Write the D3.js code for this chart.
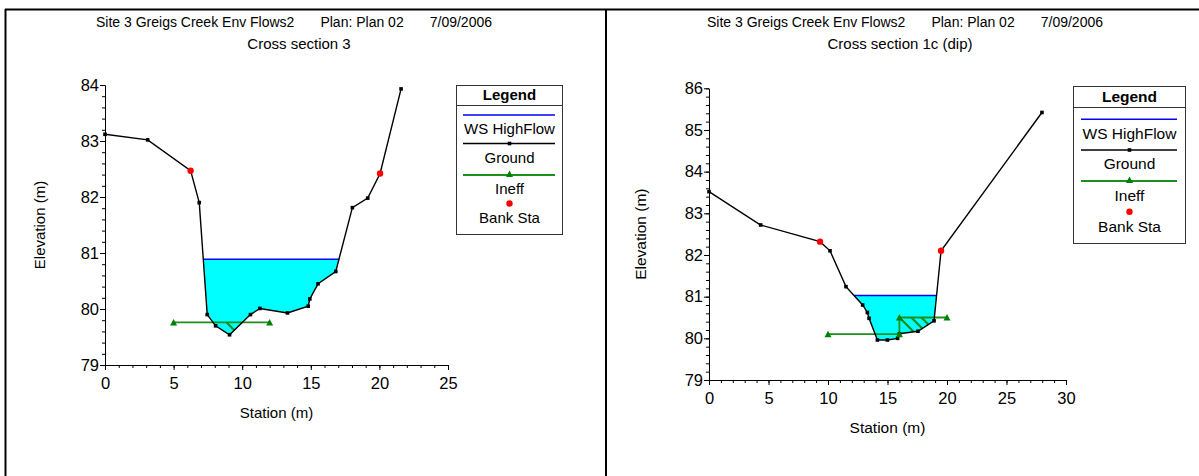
<!DOCTYPE html>
<html><head><meta charset="utf-8">
<script src="https://cdn.jsdelivr.net/npm/d3@7"></script>
<style>body{margin:0;background:#fff}svg{display:block;font-family:"Liberation Sans",Arial,sans-serif}</style>
</head><body><svg id="c" width="1199" height="476"></svg>
<script>
// ---------- shared text ----------
const titleParts = ["Site 3 Greigs Creek Env Flows2", "Plan: Plan 02", "7/09/2006"];
const legendLabels = ["WS HighFlow", "Ground", "Ineff", "Bank Sta"];
const xAxisTitle = "Station (m)";
const yAxisTitle = "Elevation (m)";

// ---------- Cross section 3 ----------
const xs3Name = "Cross section 3";
const xs3Station = [0, 3.11, 6.24, 6.87, 7.45, 8.06, 9.08, 10.6, 11.29, 13.30, 14.81, 14.93, 15.53, 16.82, 18.03, 19.15, 20.05, 21.58];
const xs3Elev    = [83.12, 83.02, 82.47, 81.90, 79.90, 79.70, 79.54, 79.90, 80.01, 79.93, 80.05, 80.18, 80.45, 80.67, 81.81, 81.98, 82.42, 83.93];
const xs3WS = 80.89;
const xs3BankStation = [6.24, 20.05];
const xs3BankElev = [82.47, 82.42];
const xs3IneffStation = [5, 12];
const xs3IneffElev = [79.76, 79.76];
const xs3HatchStation = [8.86];
const xs3HatchElev = [79.76];
const xs3XTicks = [0, 5, 10, 15, 20, 25];
const xs3YTicks = [79, 80, 81, 82, 83, 84];

// ---------- Cross section 1c (dip) ----------
const xs1cName = "Cross section 1c (dip)";
const xs1cStation = [0, 4.34, 9.33, 10.17, 11.51, 12.91, 13.31, 13.45, 14.15, 14.99, 15.85, 16.0, 17.56, 18.91, 19.5, 27.98];
const xs1cElev    = [83.52, 82.72, 82.32, 82.10, 81.24, 80.80, 80.62, 80.48, 79.96, 79.96, 80.0, 80.11, 80.17, 80.42, 82.10, 85.42];
const xs1cWS = 81.03;
const xs1cBankStation = [9.33, 19.5];
const xs1cBankElev = [82.32, 82.10];
const xs1cIneffStation = [10, 16, 16, 20];
const xs1cIneffElev = [80.10, 80.10, 80.50, 80.50];
const xs1cHatchStation = [16.0, 17.0, 17.85];
const xs1cHatchElev = [80.50, 80.50, 80.50];
const xs1cXTicks = [0, 5, 10, 15, 20, 25, 30];
const xs1cYTicks = [79, 80, 81, 82, 83, 84, 85, 86];

const svg = d3.select("#c");
const GREEN = "#1d8f1d", GREEN_MARK = "#008000";

// frame
svg.append("line").attr("x1", 5).attr("x2", 1199).attr("y1", 9.5).attr("y2", 9.5).attr("stroke", "#000").attr("stroke-width", 2);
svg.append("line").attr("x1", 5.5).attr("x2", 5.5).attr("y1", 9).attr("y2", 476).attr("stroke", "#000").attr("stroke-width", 2);
svg.append("line").attr("x1", 606).attr("x2", 606).attr("y1", 9).attr("y2", 476).attr("stroke", "#000").attr("stroke-width", 2);

let clipId = 0;
function triangle(g, x, y, color) {
  g.append("path").attr("d", `M${x - 3.5},${y + 3}L${x + 3.5},${y + 3}L${x},${y - 3.5}Z`).attr("fill", color);
}

function drawChart(cfg) {
  const g = svg.append("g");
  const x = d3.scaleLinear().domain([cfg.xTicks[0], cfg.xTicks[cfg.xTicks.length - 1]]).range([cfg.left, cfg.right]);
  const y = d3.scaleLinear().domain([cfg.yTicks[0], cfg.yTicks[cfg.yTicks.length - 1]]).range([cfg.bottom, cfg.top]);

  // titles
  const t = g.append("text").attr("x", cfg.titleX).attr("y", cfg.titleY).attr("text-anchor", "middle")
    .attr("font-size", cfg.titleSize).attr("fill", "#000").attr("xml:space", "preserve");
  titleParts.forEach((p, i) => t.append("tspan").attr("dx", i === 0 ? 0 : cfg.titleGap).text(p));
  g.append("text").attr("x", cfg.subX).attr("y", cfg.subY).attr("text-anchor", "middle")
    .attr("font-size", cfg.subSize).text(cfg.name);

  // ground data
  const ground = cfg.station.map((s, i) => [s, cfg.elev[i]]);
  // water polygon: find crossings from the thalweg outward
  let iMin = d3.minIndex(ground, d => d[1]);
  let l = iMin; while (l > 0 && ground[l - 1][1] < cfg.ws) l--;
  let r = iMin; while (r < ground.length - 1 && ground[r + 1][1] < cfg.ws) r++;
  const cross = (a, b) => a[0] + (b[0] - a[0]) * (cfg.ws - a[1]) / (b[1] - a[1]);
  const xl = cross(ground[l - 1], ground[l]);
  const xr = cross(ground[r], ground[r + 1]);
  const water = [[xl, cfg.ws]].concat(ground.slice(l, r + 1)).concat([[xr, cfg.ws]]);
  const line = d3.line().x(d => x(d[0])).y(d => y(d[1]));
  g.append("path").attr("d", line(water) + "Z").attr("fill", "#00FFFF").attr("stroke", "none");

  // hatch (ineffective) clipped to water
  const cid = "clip" + (clipId++);
  g.append("clipPath").attr("id", cid).append("path").attr("d", line(water) + "Z");
  const hg = g.append("g").attr("clip-path", `url(#${cid})`);
  cfg.hatchStation.forEach((s, i) => {
    const px = x(s), py = y(cfg.hatchElev[i]);
    hg.append("line").attr("x1", px).attr("y1", py).attr("x2", px + 60).attr("y2", py + 60)
      .attr("stroke", GREEN).attr("stroke-width", 2.2);
  });

  // WS line
  g.append("line").attr("x1", x(xl)).attr("x2", x(xr)).attr("y1", y(cfg.ws)).attr("y2", y(cfg.ws))
    .attr("stroke", "#0000FF").attr("stroke-width", 1.5);

  // ineff
  const ineff = cfg.ineffStation.map((s, i) => [s, cfg.ineffElev[i]]);
  g.append("path").attr("d", line(ineff)).attr("fill", "none").attr("stroke", GREEN).attr("stroke-width", 1.8);

  // ground
  g.append("path").attr("d", line(ground)).attr("fill", "none").attr("stroke", "#000").attr("stroke-width", 1.4);
  g.selectAll(null).data(ground).enter().append("rect")
    .attr("x", d => x(d[0]) - 1.8).attr("y", d => y(d[1]) - 1.8).attr("width", 3.6).attr("height", 3.6).attr("fill", "#000");

  ineff.forEach(d => triangle(g, x(d[0]), y(d[1]), GREEN_MARK));

  // bank stations
  cfg.bankStation.forEach((s, i) => g.append("circle").attr("cx", x(s)).attr("cy", y(cfg.bankElev[i])).attr("r", 3.2).attr("fill", "#FF0000"));

  // axes
  const xMinor = d3.range(cfg.xTicks[0], cfg.xTicks[cfg.xTicks.length - 1] + 0.001, 1);
  const yMinor = d3.range(cfg.yTicks[0], cfg.yTicks[cfg.yTicks.length - 1] + 0.001, 0.2);
  const ax = g.append("g").attr("transform", `translate(0,${cfg.bottom})`);
  ax.call(d3.axisBottom(x).tickValues(xMinor).tickSize(3).tickSizeOuter(0).tickFormat(""));
  ax.call(g2 => g2.selectAll("text").remove());
  const axM = g.append("g").attr("transform", `translate(0,${cfg.bottom})`)
    .call(d3.axisBottom(x).tickValues(cfg.xTicks).tickSize(5).tickSizeOuter(0).tickPadding(cfg.xPad).tickFormat(d3.format("d")));
  const ay = g.append("g").attr("transform", `translate(${cfg.left},0)`);
  ay.call(d3.axisLeft(y).tickValues(yMinor).tickSize(3).tickSizeOuter(0).tickFormat(""));
  ay.call(g2 => g2.selectAll("text").remove());
  const ayM = g.append("g").attr("transform", `translate(${cfg.left},0)`)
    .call(d3.axisLeft(y).tickValues(cfg.yTicks).tickSize(5).tickSizeOuter(0).tickPadding(1).tickFormat(d3.format("d")));
  [ax, axM, ay, ayM].forEach(a => {
    a.attr("font-family", null).attr("font-size", null);
    a.selectAll("line,path").attr("stroke", "#000");
    a.selectAll("text").attr("font-size", cfg.tickSize).attr("fill", "#000");
  });

  // axis titles
  g.append("text").attr("x", (cfg.left + cfg.right) / 2).attr("y", cfg.bottom + cfg.xTitleOff)
    .attr("text-anchor", "middle").attr("font-size", cfg.axisTitleSize).text(xAxisTitle);
  g.append("text").attr("transform", `translate(${cfg.yTitleX},${(cfg.top + cfg.bottom) / 2}) rotate(-90)`)
    .attr("text-anchor", "middle").attr("font-size", cfg.axisTitleSize).text(yAxisTitle);

  // legend
  const L = cfg.legend;
  const lg = g.append("g");
  lg.append("rect").attr("x", L.x + 0.5).attr("y", L.y + 0.5).attr("width", L.w).attr("height", L.h)
    .attr("fill", "#fff").attr("stroke", "#333");
  lg.append("line").attr("x1", L.x).attr("x2", L.x + L.w).attr("y1", L.y + L.sep + 0.5).attr("y2", L.y + L.sep + 0.5).attr("stroke", "#333");
  const cx = L.x + L.w / 2 + 0.5;
  lg.append("text").attr("x", cx).attr("y", L.y + L.head).attr("text-anchor", "middle")
    .attr("font-size", L.size).attr("font-weight", "bold").text("Legend");
  const x1 = L.x + L.inset, x2 = L.x + L.w - L.inset;
  legendLabels.forEach((lab, i) => {
    const sy = L.y + L.sym[i];
    if (i === 0) lg.append("line").attr("x1", x1).attr("x2", x2).attr("y1", sy).attr("y2", sy).attr("stroke", "#0000FF").attr("stroke-width", 1.5);
    if (i === 1) {
      lg.append("line").attr("x1", x1).attr("x2", x2).attr("y1", sy).attr("y2", sy).attr("stroke", "#000").attr("stroke-width", 1.4);
      lg.append("rect").attr("x", cx - 1.8).attr("y", sy - 1.8).attr("width", 3.6).attr("height", 3.6).attr("fill", "#000");
    }
    if (i === 2) {
      lg.append("line").attr("x1", x1).attr("x2", x2).attr("y1", sy).attr("y2", sy).attr("stroke", GREEN).attr("stroke-width", 1.8);
      triangle(lg, cx, sy - 1, GREEN_MARK);
    }
    if (i === 3) lg.append("circle").attr("cx", cx).attr("cy", sy).attr("r", 3.2).attr("fill", "#FF0000");
    lg.append("text").attr("x", cx).attr("y", L.y + L.txt[i]).attr("text-anchor", "middle")
      .attr("font-size", L.size).text(lab);
  });
}

drawChart({
  name: xs3Name, station: xs3Station, elev: xs3Elev, ws: xs3WS,
  bankStation: xs3BankStation, bankElev: xs3BankElev,
  ineffStation: xs3IneffStation, ineffElev: xs3IneffElev,
  hatchStation: xs3HatchStation, hatchElev: xs3HatchElev,
  xTicks: xs3XTicks, yTicks: xs3YTicks,
  left: 105, right: 448, top: 85, bottom: 365,
  titleX: 294, titleY: 27, titleSize: 14, titleGap: 26,
  subX: 299, subY: 49, subSize: 15,
  tickSize: 16.5, xPad: 7, axisTitleSize: 15, xTitleOff: 53, yTitleX: 45,
  legend: { x: 456, y: 85, w: 106, h: 149, sep: 20, head: 15, size: 15, inset: 7,
            sym: [30, 58.5, 90, 118.5], txt: [48.5, 77.5, 108.5, 137.5] }
});

drawChart({
  name: xs1cName, station: xs1cStation, elev: xs1cElev, ws: xs1cWS,
  bankStation: xs1cBankStation, bankElev: xs1cBankElev,
  ineffStation: xs1cIneffStation, ineffElev: xs1cIneffElev,
  hatchStation: xs1cHatchStation, hatchElev: xs1cHatchElev,
  xTicks: xs1cXTicks, yTicks: xs1cYTicks,
  left: 709, right: 1066, top: 88.3, bottom: 380,
  titleX: 905, titleY: 27, titleSize: 14, titleGap: 26,
  subX: 900, subY: 49, subSize: 15,
  tickSize: 16.5, xPad: 7, axisTitleSize: 15.5, xTitleOff: 53, yTitleX: 646,
  legend: { x: 1073, y: 86, w: 112, h: 157, sep: 21, head: 16, size: 15.5, inset: 8,
            sym: [33.3, 64, 95, 125.7], txt: [52.8, 82.8, 114.5, 145.5] }
});
</script></body></html>
